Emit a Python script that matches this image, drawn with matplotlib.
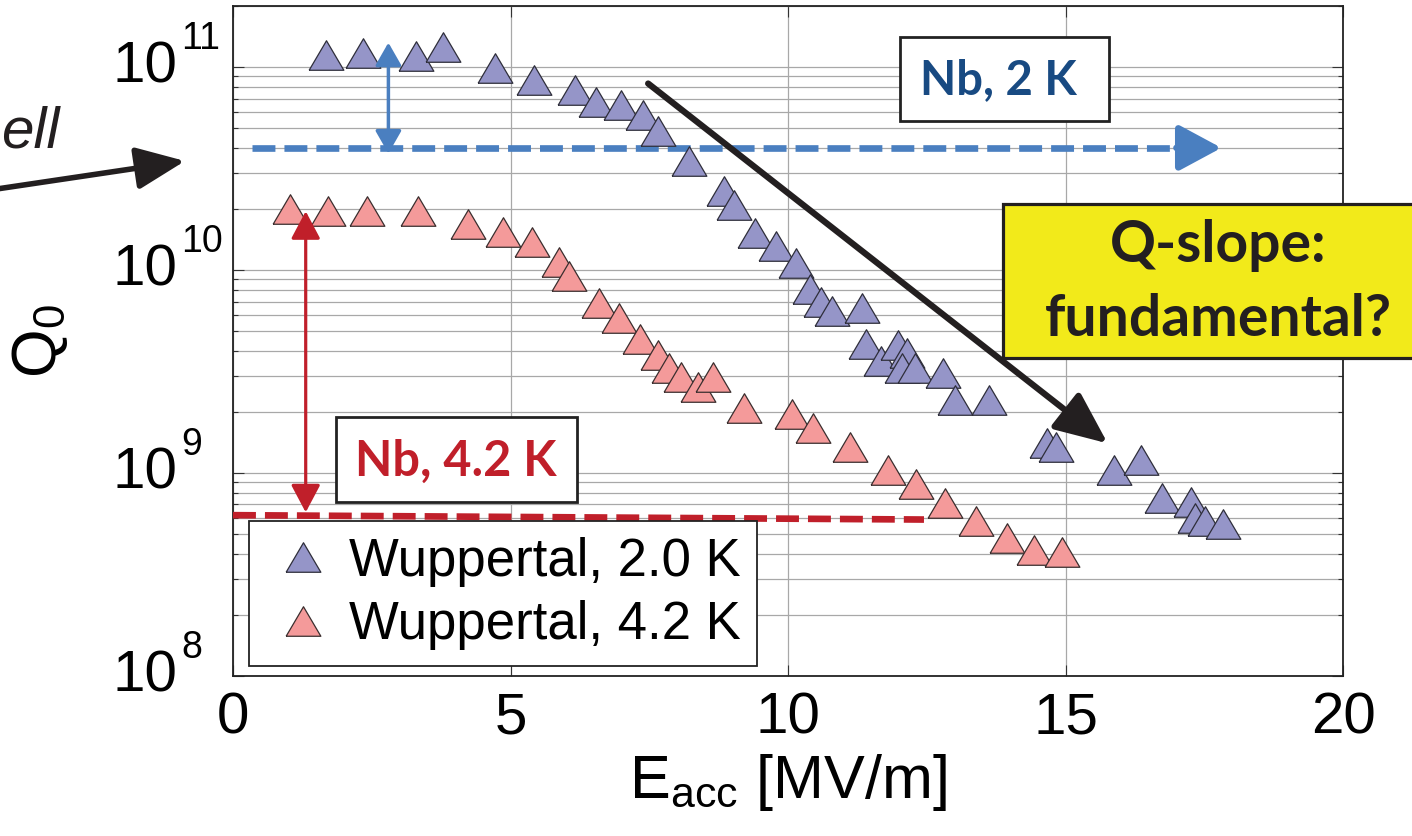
import numpy as np
import matplotlib.pyplot as plt
from matplotlib.patches import Rectangle, FancyArrowPatch
from matplotlib import transforms

plt.rcParams['font.family'] = ['Liberation Sans', 'DejaVu Sans']
plt.rcParams['mathtext.default'] = 'regular'
plt.rcParams['lines.scale_dashes'] = False

# datos: Q0 vs Eacc
e_2K = [1.68, 2.35, 3.29, 3.78, 4.72, 5.42, 6.16, 6.54, 6.99, 7.38, 7.66, 8.22,
        8.85, 9.02, 9.41, 9.79, 10.14, 10.40, 10.60, 10.80, 11.33, 11.40, 11.67,
        11.99, 12.14, 12.06, 12.29, 12.80, 13.00, 13.63, 14.67, 14.82, 15.87,
        16.36, 16.74, 17.26, 17.34, 17.51, 17.84]
q_2K = [1.15e11, 1.17e11, 1.13e11, 1.25e11, 9.9e10, 8.6e10, 7.7e10, 6.7e10,
        6.5e10, 5.8e10, 4.85e10, 3.45e10, 2.44e10, 2.1e10, 1.53e10, 1.32e10,
        1.08e10, 8.05e9, 7.0e9, 6.3e9, 6.5e9, 4.3e9, 3.55e9, 4.25e9, 3.9e9,
        3.3e9, 3.3e9, 3.1e9, 2.28e9, 2.28e9, 1.4e9, 1.34e9, 1.04e9, 1.16e9,
        7.5e8, 7.2e8, 6.0e8, 5.8e8, 5.6e8]

e_42K = [1.03, 1.72, 2.42, 3.33, 4.23, 4.86, 5.38, 5.87, 6.05, 6.60, 6.95, 7.34,
         7.65, 7.86, 8.07, 8.38, 8.64, 9.20, 10.07, 10.45, 11.11, 11.81, 12.30,
         12.83, 13.39, 13.95, 14.44, 14.93]
q_42K = [1.99e10, 1.95e10, 1.95e10, 1.95e10, 1.68e10, 1.54e10, 1.37e10, 1.1e10,
         9.4e9, 6.9e9, 5.8e9, 4.6e9, 3.8e9, 3.3e9, 2.96e9, 2.65e9, 2.96e9,
         2.1e9, 1.96e9, 1.67e9, 1.34e9, 1.03e9, 8.8e8, 7.1e8, 5.8e8, 4.8e8,
         4.2e8, 4.1e8]

labels = ["Wuppertal, 2.0 K", "Wuppertal, 4.2 K"]
xticks = [0, 5, 10, 15, 20]
yticks = [1e8, 1e9, 1e10, 1e11]
yexp = ["8", "9", "10", "11"]

# lineas de referencia (Nb) y flechas
q_nb2 = 4.0e10
q_nb42 = [6.2e8, 5.9e8]

W, H = 1412, 836
def fx(px):
    return px / W
def fy(py):
    return 1 - py / H

fig = plt.figure(figsize=(W / 100, H / 100), dpi=100)
ax = fig.add_axes([fx(233), fy(676), (1343 - 233) / W, (676 - 6) / H])

# triangulo algo aplastado como el de la figura
tri = [(-1, -0.85), (1, -0.85), (0, 0.85), (-1, -0.85)]
ax.plot(e_2K, q_2K, linestyle='none', marker=tri, markersize=25,
        markerfacecolor='#9595c8', markeredgecolor='#2e2e3a', markeredgewidth=0.9,
        label=labels[0], zorder=5)
ax.plot(e_42K, q_42K, linestyle='none', marker=tri, markersize=25,
        markerfacecolor='#f49a9a', markeredgecolor='#3a2e2e', markeredgewidth=0.9,
        label=labels[1], zorder=5)

ax.set_yscale('log')
ax.set_xlim(0, 20)
ax.set_ylim(1e8, 2e11)
ax.set_xticks(xticks)
ax.set_xticklabels([str(t) for t in xticks])
ax.set_yticks(yticks)
ax.set_yticklabels(["10"] * len(yticks), ha='left', va='center')
ax.tick_params(axis='both', which='major', direction='in', labelsize=42,
               top=True, right=True, length=8, width=0.8, color='#333333')
ax.tick_params(axis='x', pad=11)
ax.tick_params(axis='y', pad=87)
ax.tick_params(axis='y', which='minor', direction='in', length=3.5, width=0.8,
               right=True, color='#333333')
ax.minorticks_on()
ax.tick_params(axis='x', which='minor', bottom=False, top=False)

# exponentes de las etiquetas 10^n
exp_tr = transforms.offset_copy(ax.get_yaxis_transform(), fig=fig, x=0, y=18, units='dots')
for t, e in zip(yticks, yexp):
    ax.text(-0.0468, t, e, transform=exp_tr, fontsize=27, ha='left', va='baseline',
            clip_on=False)

ax.grid(True, which='major', color='#a8a8a8', linewidth=0.9)
ax.grid(True, which='minor', axis='y', color='#a8a8a8', linewidth=0.9)
ax.set_axisbelow(True)
for s in ax.spines.values():
    s.set_linewidth(1.3)
    s.set_color('#222222')

ax.set_xlabel(r"E$_{acc}$ [MV/m]", fontsize=44, labelpad=5)
ax.set_ylabel(r"Q$_0$", fontsize=45, labelpad=30)

# linea azul punteada con flecha
ax.plot([0.34, 17.2], [q_nb2, q_nb2], color='#4a7fc0', lw=4.8,
        dashes=(16.5, 6.5), zorder=4)
ax.add_patch(FancyArrowPatch((17.0, q_nb2), (17.81, q_nb2),
             arrowstyle='-|>,head_length=26,head_width=14', mutation_scale=1,
             color='#4a7fc0', lw=4.8, shrinkA=0, shrinkB=0, zorder=4))
ax.add_patch(FancyArrowPatch((2.8, 3.75e10), (2.8, 1.32e11),
             arrowstyle='<|-|>,head_length=14,head_width=8', mutation_scale=1,
             color='#4a7fc0', lw=2.5, shrinkA=0, shrinkB=0, zorder=6))

# linea roja punteada
ax.plot([0.0, 12.45], q_nb42, color='#c01f2a', lw=4.8,
        dashes=(16.5, 6.5), zorder=4)
ax.add_patch(FancyArrowPatch((1.31, 6.4e8), (1.31, 1.95e10),
             arrowstyle='<|-|>,head_length=17,head_width=9', mutation_scale=1,
             color='#c01f2a', lw=2.3, shrinkA=0, shrinkB=0, zorder=6))

# flecha negra grande
ax.add_patch(FancyArrowPatch((7.48, 8.3e10), (15.76, 1.4e9),
             arrowstyle='-|>,head_length=32,head_width=14', mutation_scale=1,
             color='#231f20', lw=4.5, shrinkA=0, shrinkB=0, zorder=7))

leg = ax.legend(loc='lower left', bbox_to_anchor=(0.0144, 0.015),
                borderaxespad=0, fontsize=38, frameon=True, fancybox=False,
                handlelength=1.45, handletextpad=0.15, borderpad=0.3,
                labelspacing=0.25, framealpha=1)
leg.get_frame().set_edgecolor('#222222')
leg.get_frame().set_linewidth(1.3)
leg.set_zorder(8)

# cajas de texto
fig.patches.append(Rectangle((fx(900), fy(121)), (1109 - 900) / W, (121 - 37) / H,
                             transform=fig.transFigure, facecolor='white',
                             edgecolor='#222222', lw=2, zorder=10))
fig.text(fx(998), fy(80), "Nb, 2 K", color='#184a82', fontsize=34,
         family='Lato', weight='bold', ha='center', va='center', zorder=11)

fig.patches.append(Rectangle((fx(336), fy(502)), (577 - 336) / W, (502 - 417) / H,
                             transform=fig.transFigure, facecolor='white',
                             edgecolor='#222222', lw=2, zorder=10))
fig.text(fx(456), fy(461), "Nb, 4.2 K", color='#c01f2a', fontsize=35,
         family='Lato', weight='bold', ha='center', va='center', zorder=11)

fig.patches.append(Rectangle((fx(1003), fy(358)), (1430 - 1003) / W, (358 - 204) / H,
                             transform=fig.transFigure, facecolor='#f2ea1a',
                             edgecolor='#231f20', lw=2.3, zorder=10))
fig.text(fx(1218), fy(245), "Q-slope:", color='#231f20', fontsize=41,
         family='Lato', weight='bold', ha='center', va='center', zorder=11)
fig.text(fx(1218), fy(320), "fundamental?", color='#231f20', fontsize=41,
         family='Lato', weight='bold', ha='center', va='center', zorder=11)

# texto cortado y flecha a la izquierda
fig.text(fx(1), fy(147), "ell", fontsize=42, style='italic', ha='left',
         va='baseline', color='#231f20')
fig.patches.append(FancyArrowPatch((fx(-10), fy(190)), (fx(185), fy(161)),
                   transform=fig.transFigure,
                   arrowstyle='-|>,head_length=30,head_width=13', mutation_scale=1,
                   color='#231f20', lw=4, shrinkA=0, shrinkB=0))

fig.savefig('out.png', dpi=100)
